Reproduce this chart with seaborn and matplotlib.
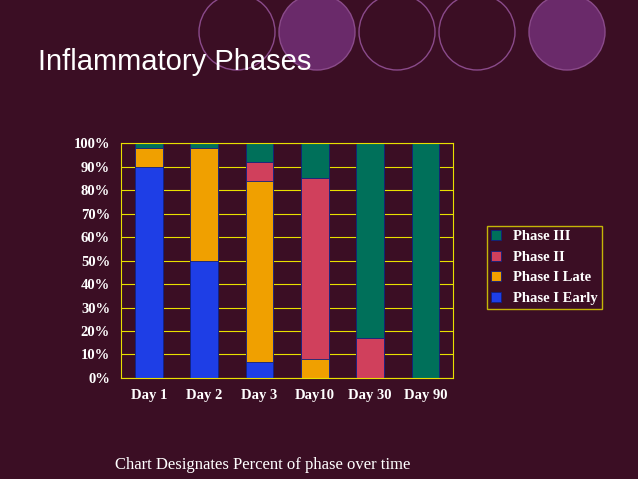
import numpy as np
import pandas as pd
import seaborn as sns
import matplotlib.pyplot as plt
from matplotlib.patches import Circle

days = ['Day 1', 'Day 2', 'Day 3', 'Day10', 'Day 30', 'Day 90']
phase_i_early = [90, 50, 7, 0, 0, 0]
phase_i_late = [8, 48, 77, 8, 0, 0]
phase_ii = [0, 0, 8, 77, 17, 0]
phase_iii = [2, 2, 8, 15, 83, 100]

series = [('Phase I Early', phase_i_early, '#1e3ee6'),
          ('Phase I Late', phase_i_late, '#f0a000'),
          ('Phase II', phase_ii, '#d0405c'),
          ('Phase III', phase_iii, '#00705a')]

bg = '#3b0e24'
fig = plt.figure(figsize=(6.38, 4.79), dpi=100, facecolor=bg)

# decorative circles at the top
deco = fig.add_axes([0, 0, 1, 1], facecolor='none')
deco.set_xlim(0, 638); deco.set_ylim(479, 0); deco.axis('off')
for cx, filled in [(237, False), (317, True), (397, False), (477, False), (567, True)]:
    deco.add_patch(Circle((cx, 32), 38, facecolor='#6a2a6a' if filled else 'none',
                          edgecolor='#8a4a8a', lw=1))
deco.text(38, 62, 'Inflammatory Phases', color='white', fontsize=21,
          family='Liberation Sans', va='center')
deco.text(115, 465, 'Chart Designates Percent of phase over time', color='white',
          fontsize=12, family='Liberation Serif', va='center')

ax = fig.add_axes([0.19, 0.211, 0.52, 0.49], facecolor=bg)
df = pd.DataFrame({'day': days})
cum = np.zeros(len(days))
tops = []
for name, vals, col in series:
    cum = cum + np.array(vals)
    tops.append((name, cum.copy(), col))
for name, top, col in reversed(tops):
    df['v'] = top
    sns.barplot(data=df, x='day', y='v', color=col, ax=ax, width=0.5,
                edgecolor='#102080', linewidth=0.6, label=name, saturation=1)

ax.set_ylim(0, 100)
ax.set_yticks(range(0, 101, 10))
ax.set_yticklabels([f'{t}%' for t in range(0, 101, 10)])
ax.grid(axis='y', color='#e8e000', lw=0.8)
ax.set_axisbelow(True)
for s in ax.spines.values():
    s.set_color('#e8e000')
ax.set_xlabel(''); ax.set_ylabel('')
ax.tick_params(colors='white', length=0, pad=8)
for lab in ax.get_xticklabels() + ax.get_yticklabels():
    lab.set_fontfamily('Liberation Serif'); lab.set_fontweight('bold')
    lab.set_fontsize(10.5); lab.set_color('white')

h, l = ax.get_legend_handles_labels()
ax.legend(h, l, loc='center left', bbox_to_anchor=(1.08, 0.47), frameon=True,
          facecolor=bg, edgecolor='#e8e000', prop={'family': 'Liberation Serif',
          'weight': 'bold', 'size': 10.5}, labelcolor='white', fancybox=False,
          handlelength=0.7, handleheight=0.7, borderpad=0.3, labelspacing=0.5)

fig.savefig('out.png', dpi=100, facecolor=bg)
